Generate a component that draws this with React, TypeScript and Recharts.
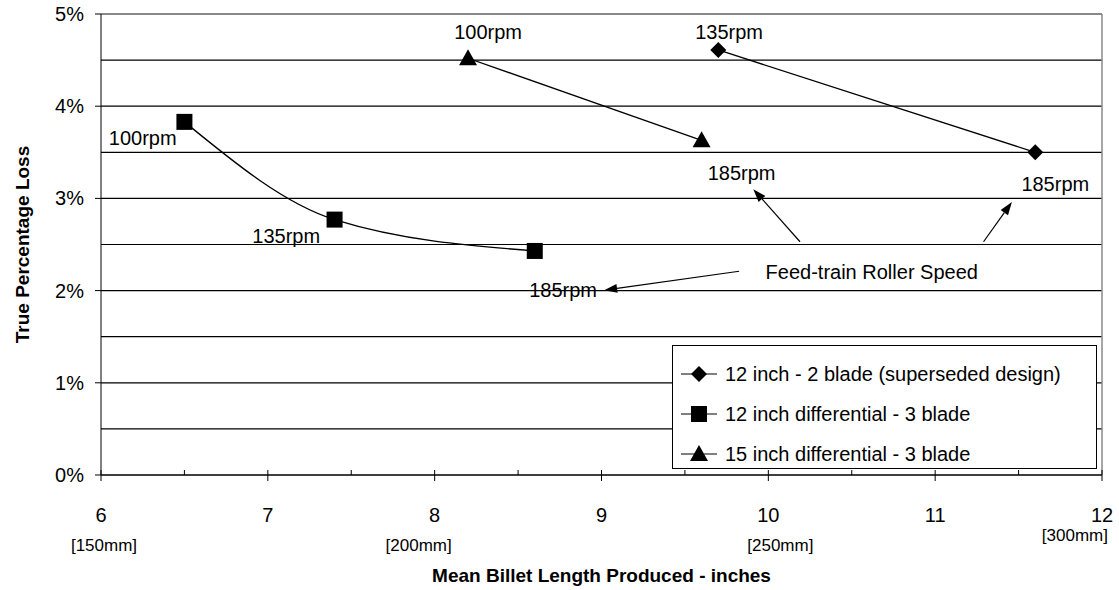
import {
  ScatterChart,
  Scatter,
  XAxis,
  YAxis,
  CartesianGrid,
  ReferenceLine,
  ReferenceDot,
  Legend,
  Label,
} from "recharts";

const FONT = '"Liberation Sans", Arial, sans-serif';

// 12 inch - 2 blade (superseded design)
const bladeX = [9.7, 11.6];
const bladeY = [4.61, 3.5];
// 12 inch differential - 3 blade
const diff12X = [6.5, 7.4, 8.6];
const diff12Y = [3.83, 2.77, 2.43];
// 15 inch differential - 3 blade
const diff15X = [8.2, 9.6];
const diff15Y = [4.52, 3.63];

const xTicks = [6, 6.5, 7, 7.5, 8, 8.5, 9, 9.5, 10, 10.5, 11, 11.5, 12];
const yTicks = [0, 0.5, 1, 1.5, 2, 2.5, 3, 3.5, 4, 4.5, 5];
const mmLabels: Record<number, string> = { 6: "[150mm]", 8: "[200mm]", 10: "[250mm]", 12: "[300mm]" };

const rpmX = [6.25, 7.11, 8.77, 8.32, 9.84, 9.765, 11.72];
const rpmY = [3.66, 2.59, 2.01, 4.81, 3.28, 4.8, 3.16];
const rpmText = ["100rpm", "135rpm", "185rpm", "100rpm", "185rpm", "135rpm", "185rpm"];

const noteText = "Feed-train Roller Speed";
const noteX = 10.62;
const noteY = 2.2;

const arrowFromX = [10.19, 11.29, 9.825];
const arrowFromY = [2.53, 2.53, 2.21];
const arrowToX = [9.91, 11.46, 9.016];
const arrowToY = [3.1, 2.96, 2.005];

const toPoints = (xs: number[], ys: number[]) => xs.map((x, i) => ({ x, y: ys[i] }));

const series = [
  { name: "12 inch - 2 blade (superseded design)", data: toPoints(bladeX, bladeY), marker: "diamond", curve: "linear" },
  { name: "12 inch differential - 3 blade", data: toPoints(diff12X, diff12Y), marker: "square", curve: "monotoneX" },
  { name: "15 inch differential - 3 blade", data: toPoints(diff15X, diff15Y), marker: "triangle", curve: "linear" },
];

function Marker({ kind, cx, cy }: { kind: string; cx: number; cy: number }) {
  if (kind === "square") return <rect x={cx - 8} y={cy - 8} width={16} height={16} fill="#000" />;
  if (kind === "diamond")
    return <polygon points={`${cx},${cy - 8} ${cx + 8},${cy} ${cx},${cy + 8} ${cx - 8},${cy}`} fill="#000" />;
  return <polygon points={`${cx},${cy - 9} ${cx + 9},${cy + 7} ${cx - 9},${cy + 7}`} fill="#000" />;
}

function XTick(props: any) {
  const { x, y, payload } = props;
  const v = payload.value;
  const major = Number.isInteger(v);
  const mm = mmLabels[v];
  const mmDx: Record<number, number> = { 6: 3, 8: -16, 10: 12, 12: 6 };
  return (
    <g>
      <line x1={x} x2={x} y1={y - 5} y2={major ? y + 6 : y} stroke="#000" />
      {major && (
        <text x={x} y={y + 40} textAnchor="middle" dominantBaseline="central" fontSize={20} fontFamily={FONT}>
          {v}
        </text>
      )}
      {mm && (
        <text
          x={x + mmDx[v]}
          y={v === 12 ? y + 60 : y + 70}
          textAnchor={v === 12 ? "end" : "middle"}
          dominantBaseline="central"
          fontSize={17}
          fontFamily={FONT}
        >
          {mm}
        </text>
      )}
    </g>
  );
}

function YTick(props: any) {
  const { x, y, payload } = props;
  const v = payload.value;
  if (!Number.isInteger(v)) return <g />;
  return (
    <g>
      <line x1={x - 6} x2={x} y1={y} y2={y} stroke="#000" />
      <text x={x - 17} y={y} textAnchor="end" dominantBaseline="central" fontSize={20} fontFamily={FONT}>
        {v}%
      </text>
    </g>
  );
}

function Arrow(props: any) {
  const { x1, y1, x2, y2 } = props;
  const ang = Math.atan2(y2 - y1, x2 - x1);
  const len = 13;
  const w = 4.5;
  const bx = x2 - len * Math.cos(ang);
  const by = y2 - len * Math.sin(ang);
  const px = -Math.sin(ang) * w;
  const py = Math.cos(ang) * w;
  return (
    <g>
      <line x1={x1} y1={y1} x2={bx} y2={by} stroke="#000" strokeWidth={1.2} />
      <polygon points={`${x2},${y2} ${bx + px},${by + py} ${bx - px},${by - py}`} fill="#000" />
    </g>
  );
}

function LegendBox() {
  return (
    <div
      style={{
        width: 425,
        height: 124,
        boxSizing: "border-box",
        border: "1px solid #000",
        background: "#fff",
        fontFamily: FONT,
        fontSize: 20,
        padding: "8px 0 0 8px",
      }}
    >
      {series.map((s) => (
        <div key={s.name} style={{ display: "flex", alignItems: "center", height: 40, whiteSpace: "nowrap" }}>
          <svg width={36} height={20} style={{ marginRight: 8 }}>
            <line x1={0} x2={36} y1={10} y2={10} stroke="#000" strokeWidth={1.2} />
            <Marker kind={s.marker} cx={18} cy={10} />
          </svg>
          <span>{s.name}</span>
        </div>
      ))}
    </div>
  );
}

const textLabel = (text: string) => (p: any) => (
  <text x={p.cx} y={p.cy} textAnchor="middle" dominantBaseline="central" fontSize={20} fontFamily={FONT}>
    {text}
  </text>
);

export default function App() {
  return (
    <div style={{ position: "absolute", left: 0, top: 0, background: "#fff" }}>
      <ScatterChart width={1119} height={590} margin={{ top: 14, right: 17, left: 0, bottom: 0 }}>
        <CartesianGrid vertical={false} stroke="#000" strokeWidth={1.2} />
        <XAxis
          type="number"
          dataKey="x"
          domain={[6, 12]}
          ticks={xTicks}
          interval={0}
          height={115}
          tickSize={0}
          tickMargin={0}
          tickLine={false}
          tick={<XTick />}
          stroke="#000"
        >
          <Label
            content={(p: any) => (
              <text
                x={p.viewBox.x + p.viewBox.width / 2}
                y={p.viewBox.y + 100}
                textAnchor="middle"
                dominantBaseline="central"
                fontSize={19}
                fontWeight="bold"
                fontFamily={FONT}
              >
                Mean Billet Length Produced - inches
              </text>
            )}
          />
        </XAxis>
        <YAxis
          type="number"
          dataKey="y"
          domain={[0, 5]}
          ticks={yTicks}
          interval={0}
          width={101}
          tickSize={0}
          tickMargin={0}
          tickLine={false}
          tick={<YTick />}
          stroke="#000"
        >
          <Label
            content={(p: any) => {
              const cx = 22;
              const cy = p.viewBox.y + p.viewBox.height / 2;
              return (
                <text
                  x={cx}
                  y={cy}
                  transform={`rotate(-90 ${cx} ${cy})`}
                  textAnchor="middle"
                  dominantBaseline="central"
                  fontSize={19}
                  fontWeight="bold"
                  fontFamily={FONT}
                >
                  True Percentage Loss
                </text>
              );
            }}
          />
        </YAxis>
        <ReferenceLine y={5} stroke="#888" strokeWidth={2} />
        <ReferenceLine x={12} stroke="#888" strokeWidth={1.5} />
        {series.map((s) => (
          <Scatter
            key={s.name}
            name={s.name}
            data={s.data}
            fill="#000"
            line={{ stroke: "#000", strokeWidth: 1.3 }}
            lineJointType={s.curve as any}
            shape={(p: any) => <Marker kind={s.marker} cx={p.cx} cy={p.cy} />}
            isAnimationActive={false}
          />
        ))}
        {rpmX.map((x, i) => (
          <ReferenceDot key={`rpm${i}`} x={x} y={rpmY[i]} ifOverflow="visible" shape={textLabel(rpmText[i])} />
        ))}
        <ReferenceDot x={noteX} y={noteY} ifOverflow="visible" shape={textLabel(noteText)} />
        {arrowFromX.map((x, i) => (
          <ReferenceLine
            key={`arr${i}`}
            segment={[
              { x, y: arrowFromY[i] },
              { x: arrowToX[i], y: arrowToY[i] },
            ]}
            ifOverflow="visible"
            shape={(p: any) => <Arrow {...p} />}
          />
        ))}
        <Legend
          layout="horizontal"
          verticalAlign="middle"
          align="center"
          content={() => <LegendBox />}
          wrapperStyle={{ position: "absolute", left: 672, top: 345, width: 425, height: 124 }}
        />
      </ScatterChart>
    </div>
  );
}
